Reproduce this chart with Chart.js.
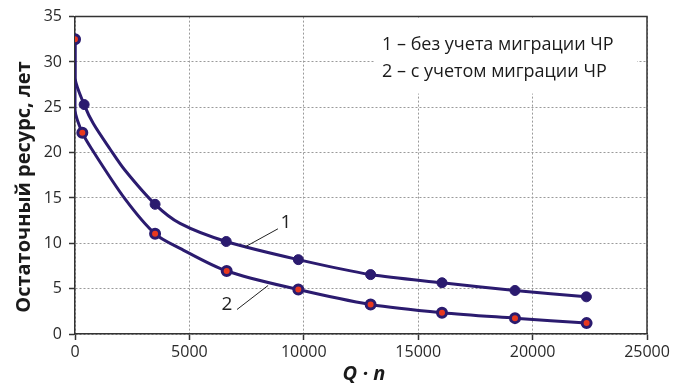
<!DOCTYPE html>
<html lang="ru">
<head>
<meta charset="utf-8">
<script src="https://cdn.jsdelivr.net/npm/chart.js@4.4.0/dist/chart.umd.min.js"></script>
<style>
    html, body { margin: 0; padding: 0; background: #fff; }
</style>
</head>
<body>
<canvas id="grafico" width="684" height="385"></canvas>
<script>
// --- Dados ---
const xTicks = [0, 5000, 10000, 15000, 20000, 25000];
const yTicks = [0, 5, 10, 15, 20, 25, 30, 35];

// Curva 1 – sem migração (pontos marcados)
const qn1 = [0, 400, 3500, 6610, 9760, 12920, 16040, 19230, 22350];
const res1 = [32.5, 25.3, 14.3, 10.2, 8.2, 6.55, 5.65, 4.8, 4.1];
// pontos extras da curva 1 (sem marcador)
const qn1Curve = [0, 800, 1530, 2185, 4590];
const res1Curve = [28.2, 23.2, 20.4, 18.05, 12.2];

// Curva 2 – com migração (pontos marcados)
const qn2 = [0, 320, 3500, 6630, 9760, 12920, 16040, 19230, 22360];
const res2 = [32.5, 22.2, 11.05, 6.95, 4.9, 3.25, 2.35, 1.75, 1.2];
// pontos extras da curva 2 (sem marcador)
const qn2Curve = [0, 730, 2185, 4590];
const res2Curve = [24.7, 20.4, 14.9, 9.45];

const legendLines = ['1 – без учета миграции ЧР', '2 – с учетом миграции ЧР'];
const yTitle = 'Остаточный ресурс, лет';
const xTitle = 'Q · n';

const navy = '#2b1b6f';
const red = '#e8381e';
const fontFamily = '"Open Sans", "Noto Sans", sans-serif';

function toPoints(xs, ys) {
    return xs.map((x, i) => ({ x: x, y: ys[i] }));
}

function curvePoints(xs, ys, xe, ye) {
    const pts = toPoints(xs, ys).concat(toPoints(xe, ye));
    pts.sort((a, b) => (a.x - b.x) || (b.y - a.y));
    return pts;
}

// Textos, moldura e legenda desenhados por plugin
const textosPlugin = {
    id: 'textos',
    beforeDatasetsDraw(chart) {
        const ctx = chart.ctx;
        const area = chart.chartArea;
        ctx.save();
        // caixa branca da legenda
        ctx.fillStyle = '#fff';
        ctx.fillRect(374, area.top + 1, 263, 76);
        ctx.fillStyle = '#1a1a1a';
        ctx.font = '18px ' + fontFamily;
        ctx.textBaseline = 'middle';
        ctx.textAlign = 'left';
        ctx.fillText(legendLines[0], 382, 45);
        ctx.fillText(legendLines[1], 382, 72);
        ctx.restore();
    },
    afterDraw(chart) {
        const ctx = chart.ctx;
        const area = chart.chartArea;
        const xs = chart.scales.x;
        const ys = chart.scales.y;
        ctx.save();
        // moldura superior e direita
        ctx.strokeStyle = '#333';
        ctx.lineWidth = 1.5;
        ctx.beginPath();
        ctx.moveTo(area.left, area.top);
        ctx.lineTo(area.right, area.top);
        ctx.lineTo(area.right, area.bottom);
        ctx.stroke();

        // rótulos das curvas com linhas de chamada
        const px = (v) => xs.getPixelForValue(v);
        const py = (v) => ys.getPixelForValue(v);
        ctx.strokeStyle = '#222';
        ctx.lineWidth = 1;
        ctx.beginPath();
        ctx.moveTo(px(8870), py(11.6));
        ctx.lineTo(px(7430), py(9.6));
        ctx.moveTo(px(7080), py(2.7));
        ctx.lineTo(px(8440), py(5.35));
        ctx.stroke();
        ctx.fillStyle = '#222';
        ctx.font = '19px ' + fontFamily;
        ctx.textAlign = 'center';
        ctx.textBaseline = 'middle';
        ctx.fillText('1', px(9220), py(12.3));
        ctx.fillText('2', px(6640), py(3.25));

        // títulos dos eixos
        ctx.fillStyle = '#1a1a1a';
        ctx.font = 'bold 20px ' + fontFamily;
        ctx.save();
        ctx.translate(24, 187);
        ctx.rotate(-Math.PI / 2);
        ctx.fillText(yTitle, 0, 0);
        ctx.restore();
        ctx.font = 'italic bold 20px ' + fontFamily;
        ctx.fillText(xTitle, 364, 374);
        ctx.restore();
    }
};

const ctx = document.getElementById('grafico').getContext('2d');

const grafico = new Chart(ctx, {
    type: 'scatter',
    data: {
        datasets: [
            {
                label: '2',
                data: toPoints(qn2, res2),
                showLine: false,
                pointRadius: 4.5,
                pointBackgroundColor: red,
                pointBorderColor: navy,
                pointBorderWidth: 3,
                order: 0
            },
            {
                label: '1',
                data: toPoints(qn1, res1),
                showLine: false,
                pointRadius: 5,
                pointBackgroundColor: navy,
                pointBorderColor: navy,
                pointBorderWidth: 1,
                order: 1
            },
            {
                label: 'curva 2',
                data: curvePoints(qn2, res2, qn2Curve, res2Curve),
                showLine: true,
                borderColor: navy,
                borderWidth: 3,
                pointRadius: 0,
                tension: 0.3,
                order: 2
            },
            {
                label: 'curva 1',
                data: curvePoints(qn1, res1, qn1Curve, res1Curve),
                showLine: true,
                borderColor: navy,
                borderWidth: 3,
                pointRadius: 0,
                tension: 0.3,
                order: 3
            }
        ]
    },
    options: {
        responsive: false,
        animation: false,
        devicePixelRatio: 1,
        layout: { padding: { top: 16, right: 37, left: 0, bottom: 0 } },
        plugins: {
            legend: { display: false },
            tooltip: { enabled: false }
        },
        scales: {
            x: {
                type: 'linear',
                min: xTicks[0],
                max: xTicks[xTicks.length - 1],
                afterFit: (scale) => { scale.height = 51; },
                afterBuildTicks: (scale) => { scale.ticks = xTicks.map(v => ({ value: v })); },
                ticks: {
                    color: '#2a2a2a',
                    font: { family: fontFamily, size: 16 },
                    padding: 3,
                    maxRotation: 0,
                    callback: (v) => String(v)
                },
                grid: {
                    color: '#9a9a9a',
                    lineWidth: 1,
                    tickLength: 6,
                    tickColor: '#333',
                    tickWidth: 1.5
                },
                border: { color: '#333', width: 1.5, dash: [2, 2] }
            },
            y: {
                type: 'linear',
                min: yTicks[0],
                max: yTicks[yTicks.length - 1],
                afterFit: (scale) => { scale.width = 75; },
                afterBuildTicks: (scale) => { scale.ticks = yTicks.map(v => ({ value: v })); },
                ticks: {
                    color: '#2a2a2a',
                    font: { family: fontFamily, size: 16 },
                    padding: 7,
                    callback: (v) => String(v)
                },
                grid: {
                    color: '#9a9a9a',
                    lineWidth: 1,
                    tickLength: 6,
                    tickColor: '#333',
                    tickWidth: 1.5
                },
                border: { color: '#333', width: 1.5, dash: [2, 2] }
            }
        }
    },
    plugins: [textosPlugin]
});
</script>
</body>
</html>
